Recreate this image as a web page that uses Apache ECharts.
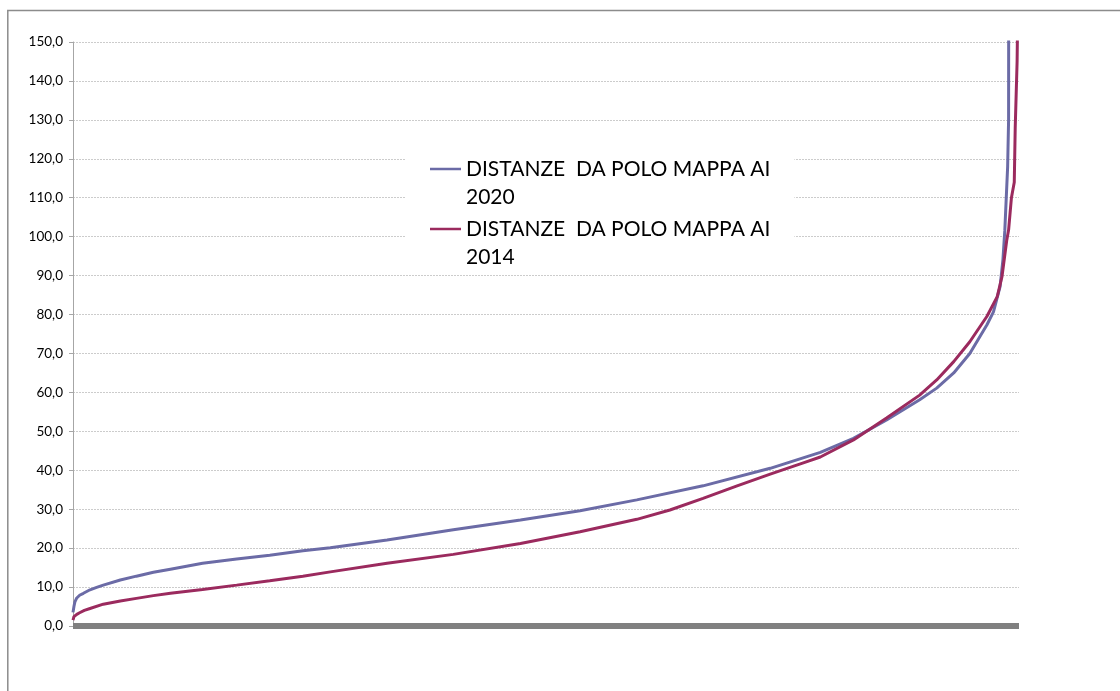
<!DOCTYPE html>
<html>
<head>
<meta charset="utf-8">
<script src="https://cdn.jsdelivr.net/npm/echarts@6/dist/echarts.min.js"></script>
<style>
  html, body { margin: 0; padding: 0; background: #fff; }
  #chart { width: 1120px; height: 691px; }
</style>
</head>
<body>
<div id="chart"></div>
<script>
// Series names
const name2020 = 'DISTANZE  DA POLO MAPPA AI 2020';
const name2014 = 'DISTANZE  DA POLO MAPPA AI 2014';

// Rank position (0..1000 across the sorted list) and distance
const rank2020 = [0, 1, 2, 4, 7, 11, 18, 25, 32, 50, 67, 85, 103, 137, 173, 208, 243, 272, 332, 402, 473, 536, 596, 666, 737, 790, 825, 860, 895, 913, 931, 948, 966, 973, 980, 983, 985, 988, 989, 990, 1000];
const dist2020 = [3.5, 5.0, 6.2, 7.2, 7.9, 8.4, 9.3, 9.9, 10.5, 11.8, 12.8, 13.8, 14.6, 16.1, 17.2, 18.2, 19.3, 20.1, 22.1, 24.7, 27.2, 29.6, 32.4, 36.0, 40.5, 44.6, 48.2, 52.9, 58.1, 61.1, 65.0, 70.0, 77.3, 80.7, 87.2, 94.0, 101.6, 118.0, 130.0, 400.0, 600.0];

const rank2014 = [0, 1, 4, 7, 12, 18, 32, 50, 67, 85, 103, 137, 173, 208, 243, 272, 332, 402, 473, 536, 596, 631, 666, 702, 737, 772, 790, 825, 860, 895, 913, 931, 948, 966, 977, 982, 987, 989, 992, 995, 996, 998, 999, 1000];
const dist2014 = [1.5, 2.4, 3.0, 3.4, 4.0, 4.5, 5.6, 6.4, 7.1, 7.8, 8.4, 9.4, 10.5, 11.6, 12.8, 13.9, 16.1, 18.4, 21.2, 24.2, 27.4, 29.8, 32.8, 36.0, 39.0, 41.9, 43.4, 47.8, 53.4, 59.3, 63.2, 67.9, 73.0, 79.5, 84.6, 89.7, 99.0, 101.7, 110.0, 114.0, 128.0, 145.0, 165.0, 200.0];

// Y axis ticks
const yMin = 0, yMax = 150, yStep = 10;

const pairs = (xs, ys) => xs.map((x, i) => [x, ys[i]]);

const chart = echarts.init(document.getElementById('chart'), null, { renderer: 'canvas' });
chart.setOption({
  animation: false,
  backgroundColor: '#ffffff',
  textStyle: { fontFamily: 'Lato' },
  grid: { left: 73, right: 101, top: 42, bottom: 65, containLabel: false },
  xAxis: {
    type: 'value', min: 0, max: 1000,
    offset: 3,
    axisLine: { show: true, lineStyle: { color: '#808080', width: 6, cap: 'butt' } },
    axisTick: { show: false },
    axisLabel: { show: false },
    splitLine: { show: false }
  },
  yAxis: {
    type: 'value', min: yMin, max: yMax, interval: yStep,
    axisLine: { show: true, lineStyle: { color: '#a6a6a6', width: 1 } },
    axisTick: { show: true, length: 4, lineStyle: { color: '#a6a6a6' } },
    axisLabel: {
      color: '#000', fontSize: 13.5, fontFamily: 'Lato', margin: 10,
      formatter: v => v.toFixed(1).replace('.', ',')
    },
    splitLine: { show: true, lineStyle: { color: '#cccccc', width: 1, type: [2, 1] } }
  },
  legend: {
    orient: 'vertical',
    left: 405, top: 127,
    padding: [0, 24, 4, 25],
    backgroundColor: '#ffffff',
    itemWidth: 31, itemHeight: 2.5,
    itemGap: -24,
    icon: 'rect',
    data: [name2020, name2014],
    formatter: n => '\n' + n.replace(/ (\d{4})$/, '\n$1'),
    textStyle: { color: '#000', fontSize: 21, lineHeight: 28, fontFamily: 'Lato' }
  },
  graphic: [{
    type: 'polyline',
    silent: true,
    shape: { points: [[7.8, 691], [7.8, 10.5], [1120, 10.5]] },
    style: { stroke: '#8c8c8c', lineWidth: 1.5, fill: null }
  }],
  series: [
    {
      name: name2020, type: 'line', symbol: 'none', smooth: false,
      clip: true,
      lineStyle: { color: '#6b6ba6', width: 3 },
      itemStyle: { color: '#6b6ba6' },
      data: pairs(rank2020, dist2020)
    },
    {
      name: name2014, type: 'line', symbol: 'none', smooth: false,
      clip: true,
      lineStyle: { color: '#9b2a5e', width: 3 },
      itemStyle: { color: '#9b2a5e' },
      data: pairs(rank2014, dist2014)
    }
  ]
});
</script>
</body>
</html>
